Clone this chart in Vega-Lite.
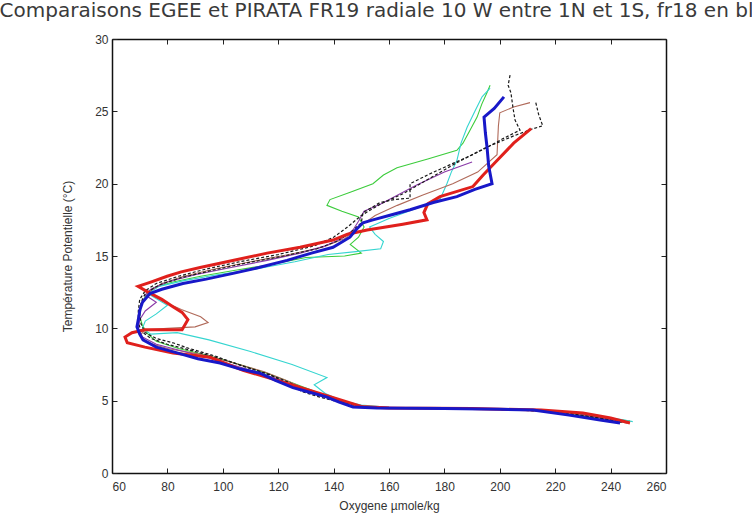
{
  "$schema": "https://vega.github.io/schema/vega-lite/v6.json",
  "autosize": {"type": "none"},
  "width": 554,
  "height": 434,
  "padding": {"left": 112, "top": 39, "right": 86, "bottom": 49},
  "background": "white",
  "config": {
    "font": "Liberation Sans",
    "view": {"stroke": null},
    "axis": {"grid": false, "domainColor": "#111", "domainWidth": 1.5, "tickColor": "#222", "tickSize": -5, "labelColor": "#333", "labelFontSize": 12, "titleFontSize": 12, "titleFontWeight": "normal", "titleColor": "#333", "labelFont": "Liberation Sans", "titleFont": "Liberation Sans"}
  },
  "title": {"text": "Comparaisons EGEE et PIRATA FR19 radiale 10 W entre 1N et 1S, fr18 en bleu", "fontSize": 20, "fontWeight": "normal", "color": "#3a3a3a", "anchor": "middle", "offset": 12, "font": "DejaVu Sans"},
  "data": {"values": [
    {"s": "FR18", "i": 0, "o": 201.5, "t": 26.0}, {"s": "FR18", "i": 1, "o": 198, "t": 25.2}, {"s": "FR18", "i": 2, "o": 194.3, "t": 24.6}, {"s": "FR18", "i": 3, "o": 194.8, "t": 23.5}, {"s": "FR18", "i": 4, "o": 195.4, "t": 22.5}, {"s": "FR18", "i": 5, "o": 196, "t": 21.2}, {"s": "FR18", "i": 6, "o": 197.2, "t": 20.0}, {"s": "FR18", "i": 7, "o": 191, "t": 19.6}, {"s": "FR18", "i": 8, "o": 184.5, "t": 19.1}, {"s": "FR18", "i": 9, "o": 176, "t": 18.7}, {"s": "FR18", "i": 10, "o": 167.6, "t": 18.2}, {"s": "FR18", "i": 11, "o": 160, "t": 17.8}, {"s": "FR18", "i": 12, "o": 154.2, "t": 17.5}, {"s": "FR18", "i": 13, "o": 150.6, "t": 17.3}, {"s": "FR18", "i": 14, "o": 148, "t": 16.8}, {"s": "FR18", "i": 15, "o": 145.9, "t": 16.3}, {"s": "FR18", "i": 16, "o": 139.8, "t": 15.6}, {"s": "FR18", "i": 17, "o": 132, "t": 15.2}, {"s": "FR18", "i": 18, "o": 123.2, "t": 14.7}, {"s": "FR18", "i": 19, "o": 113, "t": 14.2}, {"s": "FR18", "i": 20, "o": 103.7, "t": 13.8}, {"s": "FR18", "i": 21, "o": 94, "t": 13.4}, {"s": "FR18", "i": 22, "o": 85.6, "t": 13.1}, {"s": "FR18", "i": 23, "o": 78, "t": 12.7}, {"s": "FR18", "i": 24, "o": 73.7, "t": 12.4}, {"s": "FR18", "i": 25, "o": 71, "t": 11.8}, {"s": "FR18", "i": 26, "o": 70.1, "t": 11.3}, {"s": "FR18", "i": 27, "o": 69.5, "t": 10.6}, {"s": "FR18", "i": 28, "o": 69, "t": 10.1}, {"s": "FR18", "i": 29, "o": 70, "t": 9.6}, {"s": "FR18", "i": 30, "o": 71.2, "t": 9.2}, {"s": "FR18", "i": 31, "o": 76, "t": 8.7}, {"s": "FR18", "i": 32, "o": 83.5, "t": 8.3}, {"s": "FR18", "i": 33, "o": 91, "t": 7.9}, {"s": "FR18", "i": 34, "o": 99, "t": 7.6}, {"s": "FR18", "i": 35, "o": 106, "t": 7.2}, {"s": "FR18", "i": 36, "o": 113.4, "t": 6.9}, {"s": "FR18", "i": 37, "o": 119, "t": 6.4}, {"s": "FR18", "i": 38, "o": 125.3, "t": 5.9}, {"s": "FR18", "i": 39, "o": 131, "t": 5.6}, {"s": "FR18", "i": 40, "o": 137.6, "t": 5.25}, {"s": "FR18", "i": 41, "o": 142, "t": 4.9}, {"s": "FR18", "i": 42, "o": 147, "t": 4.56}, {"s": "FR18", "i": 43, "o": 155.7, "t": 4.49}, {"s": "FR18", "i": 44, "o": 180, "t": 4.45}, {"s": "FR18", "i": 45, "o": 200, "t": 4.4}, {"s": "FR18", "i": 46, "o": 212, "t": 4.35}, {"s": "FR18", "i": 47, "o": 225, "t": 4.0}, {"s": "FR18", "i": 48, "o": 236.2, "t": 3.66}, {"s": "FR18", "i": 49, "o": 243.4, "t": 3.46},

    {"s": "rouge", "i": 0, "o": 211.3, "t": 23.8}, {"s": "rouge", "i": 1, "o": 205, "t": 22.8}, {"s": "rouge", "i": 2, "o": 199, "t": 21.6}, {"s": "rouge", "i": 3, "o": 194, "t": 20.6}, {"s": "rouge", "i": 4, "o": 190.3, "t": 19.8}, {"s": "rouge", "i": 5, "o": 178.4, "t": 19.1}, {"s": "rouge", "i": 6, "o": 174, "t": 18.6}, {"s": "rouge", "i": 7, "o": 172.6, "t": 18.0}, {"s": "rouge", "i": 8, "o": 173.7, "t": 17.5}, {"s": "rouge", "i": 9, "o": 165, "t": 17.2}, {"s": "rouge", "i": 10, "o": 152.1, "t": 16.8}, {"s": "rouge", "i": 11, "o": 145, "t": 16.5}, {"s": "rouge", "i": 12, "o": 139.8, "t": 16.1}, {"s": "rouge", "i": 13, "o": 127.9, "t": 15.6}, {"s": "rouge", "i": 14, "o": 116, "t": 15.2}, {"s": "rouge", "i": 15, "o": 104, "t": 14.7}, {"s": "rouge", "i": 16, "o": 91.8, "t": 14.2}, {"s": "rouge", "i": 17, "o": 85, "t": 13.9}, {"s": "rouge", "i": 18, "o": 79.9, "t": 13.6}, {"s": "rouge", "i": 19, "o": 74, "t": 13.2}, {"s": "rouge", "i": 20, "o": 69.4, "t": 12.9}, {"s": "rouge", "i": 21, "o": 73, "t": 12.5}, {"s": "rouge", "i": 22, "o": 78, "t": 12.0}, {"s": "rouge", "i": 23, "o": 82, "t": 11.5}, {"s": "rouge", "i": 24, "o": 85.3, "t": 11.1}, {"s": "rouge", "i": 25, "o": 87.4, "t": 10.6}, {"s": "rouge", "i": 26, "o": 85.3, "t": 9.9}, {"s": "rouge", "i": 27, "o": 78, "t": 9.9}, {"s": "rouge", "i": 28, "o": 71.9, "t": 9.9}, {"s": "rouge", "i": 29, "o": 67.2, "t": 9.7}, {"s": "rouge", "i": 30, "o": 64.7, "t": 9.4}, {"s": "rouge", "i": 31, "o": 65.5, "t": 9.0}, {"s": "rouge", "i": 32, "o": 71.9, "t": 8.7}, {"s": "rouge", "i": 33, "o": 82, "t": 8.3}, {"s": "rouge", "i": 34, "o": 95.4, "t": 8.0}, {"s": "rouge", "i": 35, "o": 107.3, "t": 7.1}, {"s": "rouge", "i": 36, "o": 119.6, "t": 6.4}, {"s": "rouge", "i": 37, "o": 131.5, "t": 5.7}, {"s": "rouge", "i": 38, "o": 143.4, "t": 5.0}, {"s": "rouge", "i": 39, "o": 150, "t": 4.6}, {"s": "rouge", "i": 40, "o": 160, "t": 4.5}, {"s": "rouge", "i": 41, "o": 190, "t": 4.45}, {"s": "rouge", "i": 42, "o": 215, "t": 4.35}, {"s": "rouge", "i": 43, "o": 230, "t": 4.15}, {"s": "rouge", "i": 44, "o": 240, "t": 3.8}, {"s": "rouge", "i": 45, "o": 247, "t": 3.46},

    {"s": "vert", "i": 0, "o": 196.5, "t": 26.8}, {"s": "vert", "i": 1, "o": 195.4, "t": 26.3}, {"s": "vert", "i": 2, "o": 193.5, "t": 25.5}, {"s": "vert", "i": 3, "o": 191.8, "t": 24.6}, {"s": "vert", "i": 4, "o": 189, "t": 23.6}, {"s": "vert", "i": 5, "o": 186.7, "t": 22.8}, {"s": "vert", "i": 6, "o": 184.5, "t": 22.3}, {"s": "vert", "i": 7, "o": 174, "t": 21.7}, {"s": "vert", "i": 8, "o": 162.9, "t": 21.1}, {"s": "vert", "i": 9, "o": 158, "t": 20.6}, {"s": "vert", "i": 10, "o": 154.2, "t": 20.0}, {"s": "vert", "i": 11, "o": 146, "t": 19.4}, {"s": "vert", "i": 12, "o": 138.7, "t": 18.9}, {"s": "vert", "i": 13, "o": 137.6, "t": 18.5}, {"s": "vert", "i": 14, "o": 143, "t": 18.1}, {"s": "vert", "i": 15, "o": 149, "t": 17.7}, {"s": "vert", "i": 16, "o": 151, "t": 17.0}, {"s": "vert", "i": 17, "o": 149, "t": 16.3}, {"s": "vert", "i": 18, "o": 146, "t": 15.8}, {"s": "vert", "i": 19, "o": 150, "t": 15.2}, {"s": "vert", "i": 20, "o": 144, "t": 15.0}, {"s": "vert", "i": 21, "o": 130, "t": 14.9}, {"s": "vert", "i": 22, "o": 117, "t": 14.4}, {"s": "vert", "i": 23, "o": 104, "t": 14.0}, {"s": "vert", "i": 24, "o": 92, "t": 13.6}, {"s": "vert", "i": 25, "o": 82, "t": 13.2}, {"s": "vert", "i": 26, "o": 75, "t": 12.8}, {"s": "vert", "i": 27, "o": 72, "t": 12.2}, {"s": "vert", "i": 28, "o": 70.5, "t": 11.5}, {"s": "vert", "i": 29, "o": 70, "t": 10.8}, {"s": "vert", "i": 30, "o": 71, "t": 10.2}, {"s": "vert", "i": 31, "o": 73, "t": 9.6}, {"s": "vert", "i": 32, "o": 76, "t": 9.1}, {"s": "vert", "i": 33, "o": 84, "t": 8.6}, {"s": "vert", "i": 34, "o": 95, "t": 8.1}, {"s": "vert", "i": 35, "o": 106, "t": 7.5}, {"s": "vert", "i": 36, "o": 116, "t": 6.9}, {"s": "vert", "i": 37, "o": 124, "t": 6.3}, {"s": "vert", "i": 38, "o": 131, "t": 5.8}, {"s": "vert", "i": 39, "o": 139, "t": 5.2}, {"s": "vert", "i": 40, "o": 148, "t": 4.7}, {"s": "vert", "i": 41, "o": 158, "t": 4.5}, {"s": "vert", "i": 42, "o": 190, "t": 4.45}, {"s": "vert", "i": 43, "o": 215, "t": 4.3}, {"s": "vert", "i": 44, "o": 232, "t": 3.9}, {"s": "vert", "i": 45, "o": 241, "t": 3.7}, {"s": "vert", "i": 46, "o": 247, "t": 3.6},

    {"s": "cyan", "i": 0, "o": 196.5, "t": 26.6}, {"s": "cyan", "i": 1, "o": 193.6, "t": 26.0}, {"s": "cyan", "i": 2, "o": 191, "t": 25.0}, {"s": "cyan", "i": 3, "o": 188.2, "t": 23.9}, {"s": "cyan", "i": 4, "o": 186, "t": 22.8}, {"s": "cyan", "i": 5, "o": 184.5, "t": 21.6}, {"s": "cyan", "i": 6, "o": 182.5, "t": 20.8}, {"s": "cyan", "i": 7, "o": 180.9, "t": 20.0}, {"s": "cyan", "i": 8, "o": 178.4, "t": 18.9}, {"s": "cyan", "i": 9, "o": 170, "t": 18.3}, {"s": "cyan", "i": 10, "o": 160, "t": 17.6}, {"s": "cyan", "i": 11, "o": 153, "t": 17.0}, {"s": "cyan", "i": 12, "o": 155, "t": 16.5}, {"s": "cyan", "i": 13, "o": 158, "t": 16.0}, {"s": "cyan", "i": 14, "o": 157, "t": 15.5}, {"s": "cyan", "i": 15, "o": 148, "t": 15.3}, {"s": "cyan", "i": 16, "o": 138, "t": 15.1}, {"s": "cyan", "i": 17, "o": 126, "t": 14.6}, {"s": "cyan", "i": 18, "o": 112, "t": 14.1}, {"s": "cyan", "i": 19, "o": 98, "t": 13.7}, {"s": "cyan", "i": 20, "o": 86, "t": 13.3}, {"s": "cyan", "i": 21, "o": 77, "t": 12.9}, {"s": "cyan", "i": 22, "o": 73, "t": 12.4}, {"s": "cyan", "i": 23, "o": 80, "t": 11.6}, {"s": "cyan", "i": 24, "o": 76, "t": 11.0}, {"s": "cyan", "i": 25, "o": 72, "t": 10.5}, {"s": "cyan", "i": 26, "o": 71, "t": 10.0}, {"s": "cyan", "i": 27, "o": 74, "t": 9.6}, {"s": "cyan", "i": 28, "o": 83.5, "t": 9.7}, {"s": "cyan", "i": 29, "o": 95, "t": 9.2}, {"s": "cyan", "i": 30, "o": 110, "t": 8.4}, {"s": "cyan", "i": 31, "o": 125, "t": 7.5}, {"s": "cyan", "i": 32, "o": 137.6, "t": 6.6}, {"s": "cyan", "i": 33, "o": 133, "t": 6.1}, {"s": "cyan", "i": 34, "o": 137, "t": 5.5}, {"s": "cyan", "i": 35, "o": 143, "t": 5.0}, {"s": "cyan", "i": 36, "o": 150, "t": 4.7}, {"s": "cyan", "i": 37, "o": 160, "t": 4.55}, {"s": "cyan", "i": 38, "o": 195, "t": 4.45}, {"s": "cyan", "i": 39, "o": 220, "t": 4.3}, {"s": "cyan", "i": 40, "o": 236, "t": 3.9}, {"s": "cyan", "i": 41, "o": 244, "t": 3.7}, {"s": "cyan", "i": 42, "o": 248, "t": 3.55},

    {"s": "brun", "i": 0, "o": 210.9, "t": 25.6}, {"s": "brun", "i": 1, "o": 205, "t": 25.3}, {"s": "brun", "i": 2, "o": 200, "t": 24.9}, {"s": "brun", "i": 3, "o": 199.5, "t": 24.0}, {"s": "brun", "i": 4, "o": 199.3, "t": 23.2}, {"s": "brun", "i": 5, "o": 199, "t": 22.0}, {"s": "brun", "i": 6, "o": 192, "t": 20.8}, {"s": "brun", "i": 7, "o": 183, "t": 20.0}, {"s": "brun", "i": 8, "o": 172, "t": 19.2}, {"s": "brun", "i": 9, "o": 163, "t": 18.5}, {"s": "brun", "i": 10, "o": 155, "t": 17.8}, {"s": "brun", "i": 11, "o": 149, "t": 17.0}, {"s": "brun", "i": 12, "o": 144, "t": 16.2}, {"s": "brun", "i": 13, "o": 136, "t": 15.6}, {"s": "brun", "i": 14, "o": 124, "t": 15.1}, {"s": "brun", "i": 15, "o": 110, "t": 14.6}, {"s": "brun", "i": 16, "o": 97, "t": 14.1}, {"s": "brun", "i": 17, "o": 86, "t": 13.6}, {"s": "brun", "i": 18, "o": 78, "t": 13.1}, {"s": "brun", "i": 19, "o": 73, "t": 12.5}, {"s": "brun", "i": 20, "o": 78, "t": 11.9}, {"s": "brun", "i": 21, "o": 85, "t": 11.3}, {"s": "brun", "i": 22, "o": 92, "t": 10.8}, {"s": "brun", "i": 23, "o": 94.7, "t": 10.4}, {"s": "brun", "i": 24, "o": 90, "t": 10.1}, {"s": "brun", "i": 25, "o": 80, "t": 10.0}, {"s": "brun", "i": 26, "o": 72, "t": 9.9}, {"s": "brun", "i": 27, "o": 70, "t": 9.5}, {"s": "brun", "i": 28, "o": 73, "t": 9.0}, {"s": "brun", "i": 29, "o": 80, "t": 8.6}, {"s": "brun", "i": 30, "o": 92, "t": 8.2}, {"s": "brun", "i": 31, "o": 104, "t": 7.6}, {"s": "brun", "i": 32, "o": 115, "t": 7.0}, {"s": "brun", "i": 33, "o": 123, "t": 6.4}, {"s": "brun", "i": 34, "o": 130, "t": 5.8}, {"s": "brun", "i": 35, "o": 136, "t": 5.4}, {"s": "brun", "i": 36, "o": 144, "t": 4.9}, {"s": "brun", "i": 37, "o": 152, "t": 4.55}, {"s": "brun", "i": 38, "o": 170, "t": 4.48}, {"s": "brun", "i": 39, "o": 205, "t": 4.4}, {"s": "brun", "i": 40, "o": 225, "t": 4.15}, {"s": "brun", "i": 41, "o": 238, "t": 3.75}, {"s": "brun", "i": 42, "o": 246, "t": 3.45},

    {"s": "violet", "i": 0, "o": 190, "t": 21.5}, {"s": "violet", "i": 1, "o": 180, "t": 20.8}, {"s": "violet", "i": 2, "o": 170, "t": 19.9}, {"s": "violet", "i": 3, "o": 163, "t": 19.2}, {"s": "violet", "i": 4, "o": 157, "t": 18.6}, {"s": "violet", "i": 5, "o": 151, "t": 18.1}, {"s": "violet", "i": 6, "o": 149, "t": 17.4}, {"s": "violet", "i": 7, "o": 147, "t": 16.8}, {"s": "violet", "i": 8, "o": 143, "t": 16.2}, {"s": "violet", "i": 9, "o": 137, "t": 15.7}, {"s": "violet", "i": 10, "o": 128, "t": 15.2}, {"s": "violet", "i": 11, "o": 116, "t": 14.7}, {"s": "violet", "i": 12, "o": 103, "t": 14.2}, {"s": "violet", "i": 13, "o": 90, "t": 13.7}, {"s": "violet", "i": 14, "o": 80, "t": 13.2}, {"s": "violet", "i": 15, "o": 74, "t": 12.7}, {"s": "violet", "i": 16, "o": 72, "t": 12.3}, {"s": "violet", "i": 17, "o": 76, "t": 11.8}, {"s": "violet", "i": 18, "o": 72, "t": 11.2}, {"s": "violet", "i": 19, "o": 70, "t": 10.6}, {"s": "violet", "i": 20, "o": 69.5, "t": 10.0}, {"s": "violet", "i": 21, "o": 71, "t": 9.4}, {"s": "violet", "i": 22, "o": 76, "t": 8.9}, {"s": "violet", "i": 23, "o": 86, "t": 8.4}, {"s": "violet", "i": 24, "o": 98, "t": 7.8}, {"s": "violet", "i": 25, "o": 110, "t": 7.1}, {"s": "violet", "i": 26, "o": 120, "t": 6.5}, {"s": "violet", "i": 27, "o": 128, "t": 5.9}, {"s": "violet", "i": 28, "o": 135, "t": 5.4}, {"s": "violet", "i": 29, "o": 143, "t": 4.9}, {"s": "violet", "i": 30, "o": 151, "t": 4.6}, {"s": "violet", "i": 31, "o": 170, "t": 4.5}, {"s": "violet", "i": 32, "o": 205, "t": 4.42}, {"s": "violet", "i": 33, "o": 226, "t": 4.2}, {"s": "violet", "i": 34, "o": 240, "t": 3.7}, {"s": "violet", "i": 35, "o": 246, "t": 3.5},

    {"s": "tirets1", "i": 0, "o": 203.7, "t": 27.5}, {"s": "tirets1", "i": 1, "o": 203, "t": 26.8}, {"s": "tirets1", "i": 2, "o": 204, "t": 26.3}, {"s": "tirets1", "i": 3, "o": 204.8, "t": 25.2}, {"s": "tirets1", "i": 4, "o": 205.5, "t": 24.4}, {"s": "tirets1", "i": 5, "o": 207.3, "t": 23.7}, {"s": "tirets1", "i": 6, "o": 201, "t": 23.1}, {"s": "tirets1", "i": 7, "o": 195.4, "t": 22.5}, {"s": "tirets1", "i": 8, "o": 189, "t": 21.9}, {"s": "tirets1", "i": 9, "o": 183.1, "t": 21.4}, {"s": "tirets1", "i": 10, "o": 175, "t": 20.7}, {"s": "tirets1", "i": 11, "o": 167.6, "t": 20.0}, {"s": "tirets1", "i": 12, "o": 167.6, "t": 19.0}, {"s": "tirets1", "i": 13, "o": 162, "t": 18.9}, {"s": "tirets1", "i": 14, "o": 156.8, "t": 18.7}, {"s": "tirets1", "i": 15, "o": 150.6, "t": 18.0}, {"s": "tirets1", "i": 16, "o": 150, "t": 17.3}, {"s": "tirets1", "i": 17, "o": 146, "t": 16.6}, {"s": "tirets1", "i": 18, "o": 141, "t": 16.0}, {"s": "tirets1", "i": 19, "o": 134, "t": 15.5}, {"s": "tirets1", "i": 20, "o": 122, "t": 15.0}, {"s": "tirets1", "i": 21, "o": 108, "t": 14.5}, {"s": "tirets1", "i": 22, "o": 96, "t": 14.0}, {"s": "tirets1", "i": 23, "o": 85, "t": 13.5}, {"s": "tirets1", "i": 24, "o": 77, "t": 13.0}, {"s": "tirets1", "i": 25, "o": 72, "t": 12.4}, {"s": "tirets1", "i": 26, "o": 70.5, "t": 11.8}, {"s": "tirets1", "i": 27, "o": 70, "t": 11.0}, {"s": "tirets1", "i": 28, "o": 70.5, "t": 10.3}, {"s": "tirets1", "i": 29, "o": 72, "t": 9.7}, {"s": "tirets1", "i": 30, "o": 76, "t": 9.3}, {"s": "tirets1", "i": 31, "o": 82, "t": 9.0}, {"s": "tirets1", "i": 32, "o": 88, "t": 8.6}, {"s": "tirets1", "i": 33, "o": 97, "t": 8.1}, {"s": "tirets1", "i": 34, "o": 107, "t": 7.4}, {"s": "tirets1", "i": 35, "o": 117, "t": 6.8}, {"s": "tirets1", "i": 36, "o": 124, "t": 6.1}, {"s": "tirets1", "i": 37, "o": 129, "t": 5.6}, {"s": "tirets1", "i": 38, "o": 134, "t": 5.3}, {"s": "tirets1", "i": 39, "o": 142, "t": 4.9}, {"s": "tirets1", "i": 40, "o": 150, "t": 4.6}, {"s": "tirets1", "i": 41, "o": 158, "t": 4.5}, {"s": "tirets1", "i": 42, "o": 190, "t": 4.45}, {"s": "tirets1", "i": 43, "o": 215, "t": 4.3}, {"s": "tirets1", "i": 44, "o": 232, "t": 3.9}, {"s": "tirets1", "i": 45, "o": 242, "t": 3.6},

    {"s": "tirets2", "i": 0, "o": 213, "t": 25.6}, {"s": "tirets2", "i": 1, "o": 214, "t": 24.8}, {"s": "tirets2", "i": 2, "o": 215.5, "t": 24.0}, {"s": "tirets2", "i": 3, "o": 212, "t": 23.8}, {"s": "tirets2", "i": 4, "o": 205, "t": 23.3}, {"s": "tirets2", "i": 5, "o": 195, "t": 22.5}, {"s": "tirets2", "i": 6, "o": 185, "t": 21.5}, {"s": "tirets2", "i": 7, "o": 175, "t": 20.4}, {"s": "tirets2", "i": 8, "o": 165, "t": 19.3}, {"s": "tirets2", "i": 9, "o": 157, "t": 18.6}, {"s": "tirets2", "i": 10, "o": 150, "t": 17.8}, {"s": "tirets2", "i": 11, "o": 145, "t": 17.0}, {"s": "tirets2", "i": 12, "o": 140, "t": 16.3}, {"s": "tirets2", "i": 13, "o": 133, "t": 15.7}, {"s": "tirets2", "i": 14, "o": 120, "t": 15.1}, {"s": "tirets2", "i": 15, "o": 106, "t": 14.6}, {"s": "tirets2", "i": 16, "o": 94, "t": 14.1}, {"s": "tirets2", "i": 17, "o": 84, "t": 13.6}, {"s": "tirets2", "i": 18, "o": 76, "t": 13.1}, {"s": "tirets2", "i": 19, "o": 72, "t": 12.6}, {"s": "tirets2", "i": 20, "o": 70, "t": 12.0}, {"s": "tirets2", "i": 21, "o": 69.5, "t": 11.2}, {"s": "tirets2", "i": 22, "o": 69.5, "t": 10.4}, {"s": "tirets2", "i": 23, "o": 70.5, "t": 9.8}, {"s": "tirets2", "i": 24, "o": 74, "t": 9.3}, {"s": "tirets2", "i": 25, "o": 80, "t": 8.9}, {"s": "tirets2", "i": 26, "o": 90, "t": 8.4}, {"s": "tirets2", "i": 27, "o": 101, "t": 7.8}, {"s": "tirets2", "i": 28, "o": 112, "t": 7.1}, {"s": "tirets2", "i": 29, "o": 121, "t": 6.5}, {"s": "tirets2", "i": 30, "o": 128, "t": 5.9}, {"s": "tirets2", "i": 31, "o": 135, "t": 5.4}, {"s": "tirets2", "i": 32, "o": 143, "t": 4.9}, {"s": "tirets2", "i": 33, "o": 152, "t": 4.55}, {"s": "tirets2", "i": 34, "o": 165, "t": 4.5}, {"s": "tirets2", "i": 35, "o": 200, "t": 4.42}, {"s": "tirets2", "i": 36, "o": 222, "t": 4.2}, {"s": "tirets2", "i": 37, "o": 236, "t": 3.8}, {"s": "tirets2", "i": 38, "o": 244, "t": 3.5}
  ]},
  "encoding": {
    "x": {"field": "o", "type": "quantitative", "scale": {"domain": [60, 260], "nice": false, "zero": false}},
    "y": {"field": "t", "type": "quantitative", "scale": {"domain": [0, 30], "nice": false, "zero": false}},
    "order": {"field": "i", "type": "quantitative"}
  },
  "layer": [
    {
      "transform": [{"filter": {"field": "s", "oneOf": ["vert", "cyan", "brun", "violet"]}}],
      "mark": {"type": "line", "strokeWidth": 1.1},
      "encoding": {
        "x": {"field": "o", "type": "quantitative", "axis": null},
        "y": {"field": "t", "type": "quantitative", "axis": null},
        "color": {"field": "s", "type": "nominal", "legend": null, "scale": {"domain": ["vert", "cyan", "brun", "violet"], "range": ["#3ccc3c", "#35d5d0", "#b06a5a", "#8a3aa8"]}}
      }
    },
    {
      "transform": [{"filter": {"field": "s", "oneOf": ["tirets1", "tirets2"]}}],
      "mark": {"type": "line", "strokeWidth": 1.2, "strokeDash": [3, 2], "color": "#1a1a1a"},
      "encoding": {
        "x": {"field": "o", "type": "quantitative", "axis": null},
        "y": {"field": "t", "type": "quantitative", "axis": null},
        "detail": {"field": "s", "type": "nominal"}
      }
    },
    {
      "transform": [{"filter": {"field": "s", "equal": "rouge"}}],
      "mark": {"type": "line", "strokeWidth": 3, "color": "#e0201c"},
      "encoding": {
        "x": {"field": "o", "type": "quantitative", "axis": null},
        "y": {"field": "t", "type": "quantitative", "axis": null}
      }
    },
    {
      "transform": [{"filter": {"field": "s", "equal": "FR18"}}],
      "mark": {"type": "line", "strokeWidth": 3, "color": "#1818c8"},
      "encoding": {
        "x": {"field": "o", "type": "quantitative", "axis": {"orient": "bottom", "values": [60, 80, 100, 120, 140, 160, 180, 200, 220, 240, 260], "title": "Oxygene µmole/kg", "labelPadding": 13, "titlePadding": 8}},
        "y": {"field": "t", "type": "quantitative", "axis": {"orient": "left", "values": [0, 5, 10, 15, 20, 25, 30], "title": "Température Potentielle (°C)", "labelPadding": 9, "titlePadding": 20}}
      }
    },
    {
      "transform": [{"filter": {"field": "s", "equal": "FR18"}}],
      "mark": {"type": "point", "opacity": 0},
      "encoding": {
        "x": {"field": "o", "type": "quantitative", "axis": {"orient": "top", "values": [60, 80, 100, 120, 140, 160, 180, 200, 220, 240, 260], "labels": false, "title": null}},
        "y": {"field": "t", "type": "quantitative", "axis": {"orient": "right", "values": [0, 5, 10, 15, 20, 25, 30], "labels": false, "title": null}}
      }
    }
  ],
  "resolve": {"axis": {"x": "independent", "y": "independent"}}
}
